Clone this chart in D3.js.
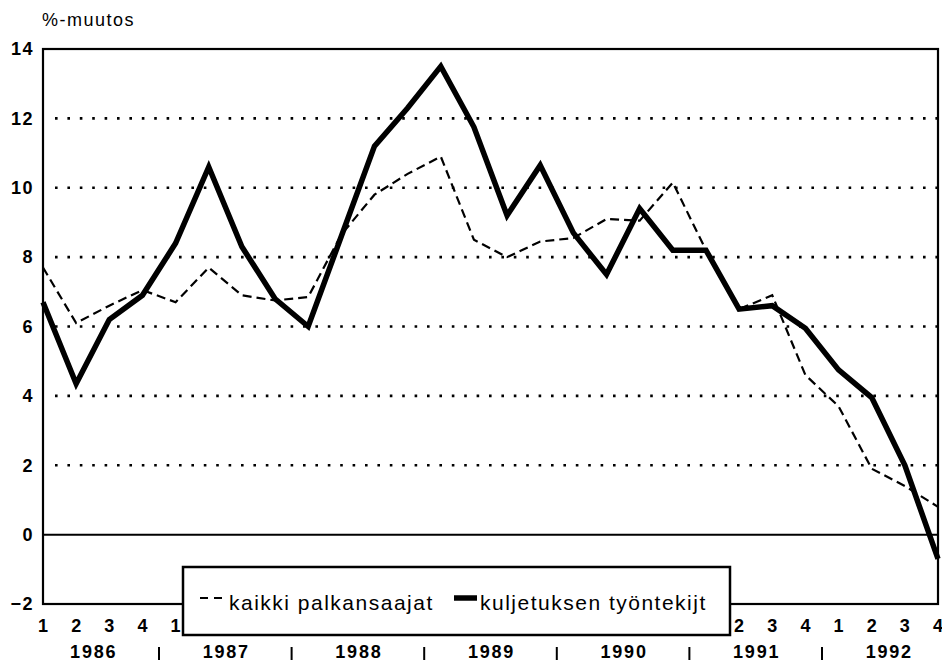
<!DOCTYPE html>
<html>
<head>
<meta charset="utf-8">
<script src="https://cdn.jsdelivr.net/npm/d3@7"></script>
<style>
  body { margin: 0; background: #fff; }
  svg { display: block; font-family: "Liberation Sans", Arial, sans-serif; }
</style>
</head>
<body>
<svg id="main" width="942" height="663"></svg>
<script>
// quarterly %-change, 1986Q1 .. 1992Q4
const years = [1986, 1987, 1988, 1989, 1990, 1991, 1992];
const quarters = [1, 2, 3, 4];
const yTicks = [-2, 0, 2, 4, 6, 8, 10, 12, 14];
const kaikki = [7.7, 6.1, 6.6, 7.05, 6.7, 7.7, 6.9, 6.75, 6.85, 8.65, 9.8, 10.4, 10.9, 8.5,
  8.0, 8.45, 8.55, 9.1, 9.05, 10.15, 8.2, 6.5, 6.9, 4.6, 3.7, 1.9, 1.4, 0.8];
const kuljetus = [6.7, 4.35, 6.2, 6.9, 8.4, 10.6, 8.3, 6.8, 6.0, 8.6, 11.2, 12.3, 13.5, 11.75,
  9.2, 10.65, 8.7, 7.5, 9.4, 8.2, 8.2, 6.5, 6.6, 5.95, 4.75, 3.95, 2.0, -0.7];

let width = 942;
let height = 663;
let margin = {left: 43, top: 49, right: 4, bottom: 59};

let svg = d3.select('#main');

let periods = [];
years.forEach(function(y) {
  quarters.forEach(function(q) { periods.push({year: y, q: q}); });
});

let x = d3.scalePoint()
  .domain(d3.range(periods.length))
  .range([margin.left, width - margin.right]);
let y = d3.scaleLinear()
  .domain([-2, 14])
  .range([height - margin.bottom, margin.top]);

// dotted grid
svg.append('g').selectAll('line')
  .data(yTicks.filter(function(v) { return v > 0 && v < 14; }))
  .join('line')
  .attr('x1', margin.left + 12).attr('x2', width - margin.right)
  .attr('y1', function(v) { return y(v); }).attr('y2', function(v) { return y(v); })
  .attr('stroke', '#000').attr('stroke-width', 2.6)
  .attr('stroke-dasharray', '2.6,9.8');

// zero line
svg.append('line')
  .attr('x1', margin.left).attr('x2', width - margin.right)
  .attr('y1', y(0)).attr('y2', y(0))
  .attr('stroke', '#000').attr('stroke-width', 2);

// frame
svg.append('rect')
  .attr('x', margin.left).attr('y', margin.top)
  .attr('width', width - margin.left - margin.right)
  .attr('height', height - margin.top - margin.bottom)
  .attr('fill', 'none').attr('stroke', '#000').attr('stroke-width', 2.2);

// y axis labels
let yAxis = svg.append('g')
  .attr('transform', 'translate(' + margin.left + ',0)')
  .call(d3.axisLeft(y).tickValues(yTicks).tickSize(0).tickPadding(9));
yAxis.select('.domain').remove();
yAxis.selectAll('text')
  .attr('font-size', 18).attr('font-weight', 'bold')
  .attr('letter-spacing', 1.5)
  .attr('font-family', '"Liberation Sans", Arial, sans-serif')
  .attr('fill', '#000');

svg.append('text')
  .attr('x', 42).attr('y', 26)
  .attr('font-size', 18).attr('letter-spacing', 1.5)
  .text('%-muutos');

// lines
let line = d3.line()
  .x(function(d, i) { return x(i); })
  .y(function(d) { return y(d); });

svg.append('path').datum(kaikki)
  .attr('d', line)
  .attr('fill', 'none').attr('stroke', '#000').attr('stroke-width', 2.2)
  .attr('stroke-dasharray', '9,5');

svg.append('path').datum(kuljetus)
  .attr('d', line)
  .attr('fill', 'none').attr('stroke', '#000').attr('stroke-width', 5.5)
  .attr('stroke-linejoin', 'miter');

// quarter labels
svg.append('g').selectAll('text')
  .data(periods)
  .join('text')
  .attr('x', function(d, i) { return x(i); })
  .attr('y', 632)
  .attr('text-anchor', 'middle')
  .attr('font-size', 18).attr('font-weight', 'bold')
  .text(function(d) { return d.q; });

// year labels and separators
svg.append('g').selectAll('text')
  .data(years)
  .join('text')
  .attr('x', function(d, i) { return (x(i * 4) + x(i * 4 + 3)) / 2 + 1; })
  .attr('y', 658)
  .attr('text-anchor', 'middle')
  .attr('font-size', 18).attr('font-weight', 'bold')
  .attr('letter-spacing', 1.8)
  .text(function(d) { return d; });

svg.append('g').selectAll('line')
  .data(years.slice(1))
  .join('line')
  .attr('x1', function(d, i) { return (x(i * 4 + 3) + x(i * 4 + 4)) / 2; })
  .attr('x2', function(d, i) { return (x(i * 4 + 3) + x(i * 4 + 4)) / 2; })
  .attr('y1', 647).attr('y2', 660)
  .attr('stroke', '#000').attr('stroke-width', 2);

// legend
let legend = svg.append('g');
legend.append('rect')
  .attr('x', 183).attr('y', 567).attr('width', 547).attr('height', 68)
  .attr('fill', '#fff').attr('stroke', '#000').attr('stroke-width', 2.5);
legend.append('line')
  .attr('x1', 200).attr('x2', 223).attr('y1', 598).attr('y2', 598)
  .attr('stroke', '#000').attr('stroke-width', 2.2).attr('stroke-dasharray', '8,6');
legend.append('text')
  .attr('x', 229).attr('y', 610).attr('font-size', 21).attr('letter-spacing', 1.5)
  .text('kaikki palkansaajat');
legend.append('line')
  .attr('x1', 454).attr('x2', 477).attr('y1', 598).attr('y2', 598)
  .attr('stroke', '#000').attr('stroke-width', 5.5);
legend.append('text')
  .attr('x', 480).attr('y', 610).attr('font-size', 21).attr('letter-spacing', 1.5)
  .text('kuljetuksen työntekijt');
</script>
</body>
</html>
